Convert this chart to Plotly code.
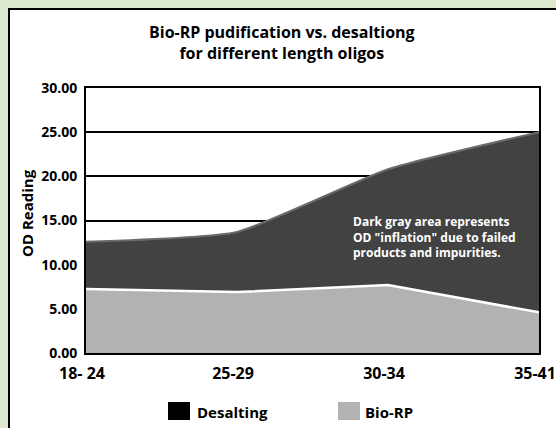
import plotly.graph_objects as go

categories = ["18- 24", "25-29", "30-34", "35-41"]
desalting = [12.6, 13.7, 20.8, 25.0]
bio_rp = [7.25, 6.9, 7.7, 4.6]
y_ticks = [0, 5, 10, 15, 20, 25, 30]

W, H = 556, 428
L, R, T, B = 86, 17, 88, 75
PW, PH = W - L - R, H - T - B

def px(X):
    return (X - L) / PW

def py(Y):
    return (H - B - Y) / PH

FONT = "Open Sans"
xs = list(range(len(categories)))

fig = go.Figure()
fig.add_trace(go.Scatter(
    x=xs, y=desalting, name="Desalting", mode="lines",
    line=dict(color="#6a6a6a", width=2, shape="spline", smoothing=0.5),
    fill="tozeroy", fillcolor="#424242", showlegend=False))
fig.add_trace(go.Scatter(
    x=xs, y=bio_rp, name="Bio-RP", mode="lines",
    line=dict(color="#ffffff", width=2.5),
    fill="tozeroy", fillcolor="#b2b2b2", showlegend=False))

shapes = [
    dict(type="rect", xref="paper", yref="paper", layer="below",
         x0=px(9), x1=px(W + 20), y0=py(H + 20), y1=py(9),
         fillcolor="white", line=dict(color="black", width=2)),
    dict(type="rect", xref="paper", yref="paper",
         x0=px(168), x1=px(190), y0=py(420), y1=py(402),
         fillcolor="#000000", line=dict(width=0)),
    dict(type="rect", xref="paper", yref="paper",
         x0=px(338), x1=px(360), y0=py(420), y1=py(402),
         fillcolor="#b2b2b2", line=dict(width=0)),
]

def ann(text, X, Y, size, color="black", xanchor="center", angle=0, align="center"):
    return dict(xref="paper", yref="paper", x=px(X), y=py(Y), showarrow=False,
                text=text, xanchor=xanchor, yanchor="middle", align=align,
                textangle=angle, font=dict(family=FONT, size=size, color=color))

annotations = [
    ann("<b>Bio-RP pudification vs. desaltiong<br>for different length oligos</b>",
        282, 42.5, 16),
    ann("<b>Dark gray area represents<br>OD \"inflation\" due to failed<br>"
        "products and impurities.</b>", 351, 237, 12, "white", "left", align="left"),
    ann("<b>Desalting</b>", 195, 412, 15, xanchor="left"),
    ann("<b>Bio-RP</b>", 363, 412, 15, xanchor="left"),
    ann("<b>OD Reading</b>", 27, 213, 15, angle=-90),
]

fig.update_layout(
    width=W, height=H,
    margin=dict(l=L, r=R, t=T, b=B, autoexpand=False),
    paper_bgcolor="#dce9cf", plot_bgcolor="white",
    shapes=shapes, annotations=annotations,
    font=dict(family=FONT, color="black"),
)
fig.update_xaxes(
    range=[0, 3], tickvals=xs, ticktext=[f"<b>{c}</b>" for c in categories],
    showgrid=False, zeroline=False, showline=True, linecolor="black",
    linewidth=2, mirror=True, ticks="", tickfont=dict(size=16),
    ticklabelstandoff=5, ticklabelshift=-4, ticklabeloverflow="allow",
    automargin=False)
fig.update_yaxes(
    range=[0, 30], tickvals=y_ticks,
    ticktext=[f"<b>{v:.2f}</b>" for v in y_ticks],
    showgrid=True, gridcolor="black", gridwidth=1.5, zeroline=False,
    showline=True, linecolor="black", linewidth=2, mirror=True, ticks="",
    tickfont=dict(size=14), ticklabelstandoff=4, automargin=False)

fig.write_html("out.html", config={"displayModeBar": False},
               post_script="document.body.style.margin='0';document.body.style.background='#dce9cf';")
